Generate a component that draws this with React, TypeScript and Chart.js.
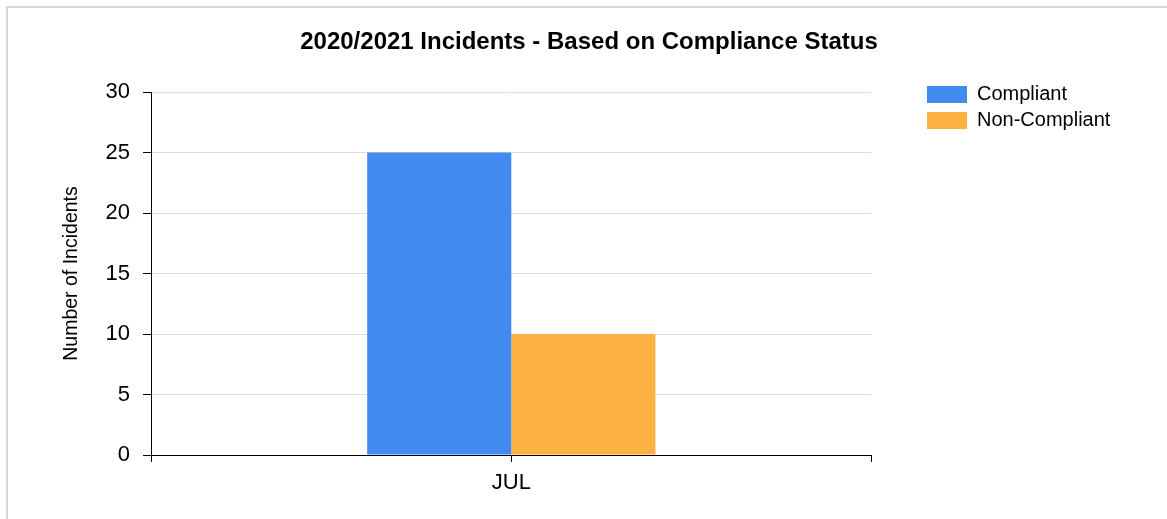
import React, { useEffect, useRef } from "react";
import { Chart, registerables } from "chart.js";

Chart.register(...registerables);

const categories = ["JUL"];
const compliant = [25];
const nonCompliant = [10];
const yTicks = [0, 5, 10, 15, 20, 25, 30];
const titleText = "2020/2021 Incidents - Based on Compliance Status";
const yAxisTitle = "Number of Incidents";
const seriesNames = ["Compliant", "Non-Compliant"];

const FONT = "'Liberation Sans', Arial, sans-serif";

const layoutFix = {
  id: "layoutFix",
  afterLayout(chart: any) {
    const l = chart.legend;
    if (l) {
      const w = l.right - l.left;
      const h = l.bottom - l.top;
      l.left = 921;
      l.right = l.left + w;
      l.top = 78.5;
      l.bottom = l.top + h;
    }
    const t = chart.titleBlock;
    if (t) {
      t.left = 11;
      t.right = 1167;
    }
  },
  afterDraw(chart: any) {
    const ctx = chart.ctx;
    const x = chart.scales.x;
    const y = chart.scales.y;
    ctx.save();
    ctx.strokeStyle = "#000";
    ctx.lineWidth = 1;
    for (let i = 0; i < categories.length; i++) {
      const px = Math.round(x.getPixelForTick(i)) + 0.5;
      const py = y.getPixelForValue(0);
      ctx.beginPath();
      ctx.moveTo(px, py);
      ctx.lineTo(px, py + 7);
      ctx.stroke();
    }
    ctx.restore();
  },
};

export default function App() {
  const ref = useRef<HTMLCanvasElement>(null);
  useEffect(() => {
    if (!ref.current) return;
    const chart = new Chart(ref.current, {
      type: "bar",
      data: {
        labels: categories,
        datasets: [
          {
            label: seriesNames[0],
            data: compliant,
            backgroundColor: "rgb(65,139,239)",
            borderWidth: 0,
          },
          {
            label: seriesNames[1],
            data: nonCompliant,
            backgroundColor: "rgb(251,178,64)",
            borderWidth: 0,
          },
        ],
      },
      options: {
        animation: false,
        responsive: true,
        maintainAspectRatio: false,
        layout: { padding: { left: 0, right: 96, top: 0, bottom: 0 } },
        datasets: { bar: { categoryPercentage: 0.4, barPercentage: 1.0 } },
        plugins: {
          title: {
            display: true,
            text: titleText,
            color: "#000",
            font: { family: FONT, size: 24, weight: "bold" },
            padding: { top: 28, bottom: 35.2 },
          },
          legend: {
            display: true,
            position: "right",
            align: "start",
            labels: {
              boxWidth: 40,
              boxHeight: 17,
              padding: 6,
              color: "#000",
              font: { family: FONT, size: 20 },
            },
          },
          tooltip: { enabled: false },
        },
        scales: {
          x: {
            grid: {
              display: true,
              drawOnChartArea: false,
              offset: true,
              color: "#000",
              tickColor: "#000",
              tickLength: 7,
            },
            border: { display: true, color: "#000", width: 1 },
            ticks: {
              color: "#000",
              font: { family: FONT, size: 22 },
              padding: 8,
            },
            afterFit: (s: any) => {
              s.height = 64;
            },
          },
          y: {
            min: 0,
            max: 30,
            afterBuildTicks: (s: any) => {
              s.ticks = yTicks.map((v) => ({ value: v }));
            },
            grid: {
              color: "#dcdcdc",
              tickColor: "#000",
              tickLength: 8,
            },
            border: { display: true, color: "#000", width: 1 },
            ticks: {
              color: "#000",
              font: { family: FONT, size: 22 },
              padding: 13,
            },
            title: {
              display: true,
              text: yAxisTitle,
              color: "#000",
              font: { family: FONT, size: 19.5 },
              padding: { top: 60, bottom: 0 },
            },
            afterFit: (s: any) => {
              s.width = 151;
            },
          },
        },
      },
      plugins: [layoutFix],
    });
    return () => chart.destroy();
  }, []);

  return (
    <div
      style={{
        position: "fixed",
        left: 0,
        top: 0,
        width: 1167,
        height: 519,
        overflow: "hidden",
        background: "#fff",
      }}
    >
      <div
        style={{
          position: "absolute",
          left: 6,
          top: 6,
          width: 1300,
          height: 700,
          border: "2px solid #d4d4d4",
        }}
      />
      <div style={{ position: "absolute", left: 0, top: 0, width: 1167, height: 519 }}>
        <canvas ref={ref} />
      </div>
    </div>
  );
}
